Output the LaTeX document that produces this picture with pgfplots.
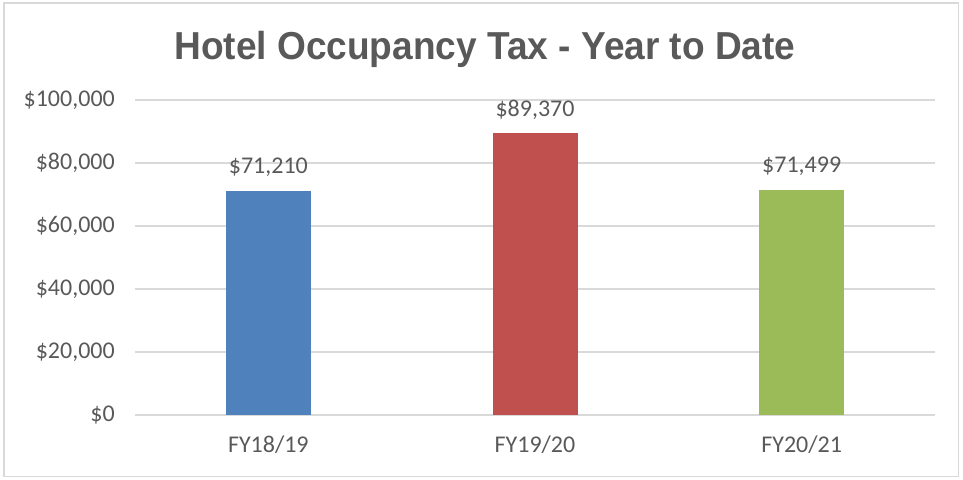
\documentclass[border=0pt]{standalone}
\usepackage{fontspec}
\setmainfont{Carlito}
\newfontfamily\titlefont{Liberation Sans}
\usepackage{graphicx}
\usepackage{pgfplots}
\pgfplotsset{compat=1.18}
\definecolor{txtgray}{HTML}{595959}
\definecolor{gridgray}{HTML}{D9D9D9}
\definecolor{bordergray}{HTML}{D9D9D9}
\definecolor{barblue}{HTML}{4F81BD}
\definecolor{barred}{HTML}{C0504D}
\definecolor{bargreen}{HTML}{9BBB59}
\begin{document}
\begin{tikzpicture}[x=1pt,y=1pt]
\path[use as bounding box] (0,0) rectangle (963,479);
\draw[bordergray, line width=1.5pt] (4,2.5) rectangle (958.5,476);
\node[anchor=base, inner sep=0, text=txtgray] at (485,419)
  {\scalebox{0.95}[1]{\titlefont\bfseries\fontsize{39}{45}\selectfont Hotel Occupancy Tax - Year to Date}};
\begin{axis}[
  at={(135pt,64pt)}, anchor=south west,
  scale only axis, width=800pt, height=315pt,
  xmin=-0.5, xmax=2.5, ymin=0, ymax=100000,
  enlarge y limits=false,
  scaled y ticks=false,
  axis line style={draw=none},
  major tick length=0pt,
  xtick={0,1,2},
  xticklabels={FY18/19,FY19/20,FY20/21},
  ytick={0,20000,40000,60000,80000,100000},
  yticklabels={{\$0},{\$20,000},{\$40,000},{\$60,000},{\$80,000},{\$100,000}},
  ymajorgrids,
  grid style={gridgray, line width=1.5pt},
  ticklabel style={font=\fontsize{24}{28}\selectfont, text=txtgray, inner sep=0pt},
  yticklabel style={xshift=-20pt},
  xticklabel style={yshift=-21pt},
  ybar, bar width=85pt, bar shift=0pt,
  point meta=explicit symbolic,
  nodes near coords,
  nodes near coords style={font=\fontsize{24}{28}\selectfont, text=txtgray, inner sep=0pt, anchor=south, yshift=14pt},
  clip=false,
]
\addplot[fill=barblue, draw=none] coordinates {(0,71210) [\$71,210]};
\addplot[fill=barred, draw=none] coordinates {(1,89370) [\$89,370]};
\addplot[fill=bargreen, draw=none] coordinates {(2,71499) [\$71,499]};
\end{axis}
\end{tikzpicture}
\end{document}
